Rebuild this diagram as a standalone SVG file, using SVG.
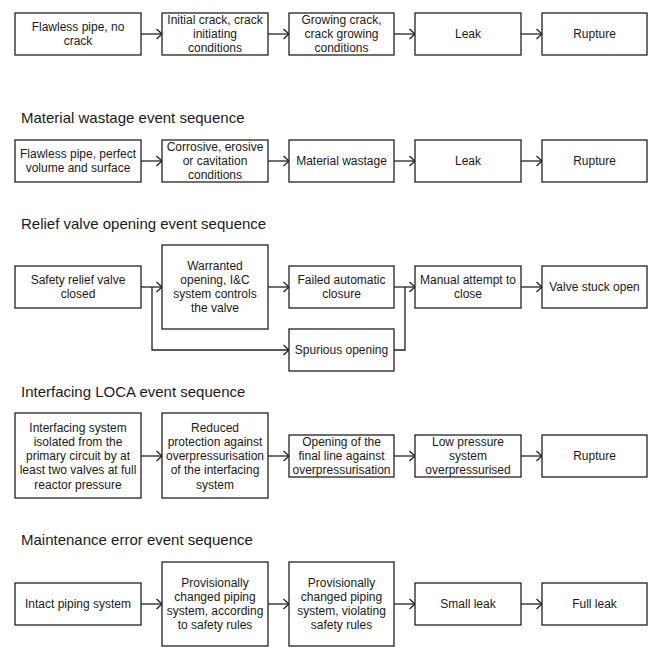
<svg xmlns="http://www.w3.org/2000/svg" width="655" height="664" viewBox="0 0 655 664">
<style>
.bx{fill:#fff;stroke:#222;stroke-width:1.3}
.t{font-family:"Liberation Sans",Arial,sans-serif;font-size:12px;fill:#1a1a1a;text-anchor:middle}
.h{font-family:"Liberation Sans",Arial,sans-serif;font-size:15px;fill:#1a1a1a}
.c{fill:none;stroke:#222;stroke-width:1.3}
</style>
<defs>
<marker id="ar" markerUnits="userSpaceOnUse" markerWidth="8" markerHeight="12" refX="6.5" refY="6" orient="auto" viewBox="0 0 8 12">
<path d="M1,1 L6.5,6 L1,11" fill="none" stroke="#222" stroke-width="1.3"/>
</marker>
</defs>
<rect width="655" height="664" fill="#fff"/>
<g id="titles">
<text class="h" x="21" y="123">Material wastage event sequence</text>
<text class="h" x="21" y="229">Relief valve opening event sequence</text>
<text class="h" x="21" y="397">Interfacing LOCA event sequence</text>
<text class="h" x="21" y="545">Maintenance error event sequence</text>
</g>
<g id="connectors">
<path class="c" marker-end="url(#ar)" d="M141,34H162"/>
<path class="c" marker-end="url(#ar)" d="M268,34H289"/>
<path class="c" marker-end="url(#ar)" d="M394,34H415"/>
<path class="c" marker-end="url(#ar)" d="M521,34H542"/>
<path class="c" marker-end="url(#ar)" d="M141,161H162"/>
<path class="c" marker-end="url(#ar)" d="M268,161H289"/>
<path class="c" marker-end="url(#ar)" d="M394,161H415"/>
<path class="c" marker-end="url(#ar)" d="M521,161H542"/>
<path class="c" marker-end="url(#ar)" d="M141,287H162"/>
<path class="c" marker-end="url(#ar)" d="M152,287V350H289"/>
<path class="c" marker-end="url(#ar)" d="M268,287H289"/>
<path class="c" marker-end="url(#ar)" d="M394,287H415"/>
<path class="c" d="M394,350H405V287"/>
<path class="c" marker-end="url(#ar)" d="M521,287H542"/>
<path class="c" marker-end="url(#ar)" d="M141,456H162"/>
<path class="c" marker-end="url(#ar)" d="M268,456H289"/>
<path class="c" marker-end="url(#ar)" d="M394,456H415"/>
<path class="c" marker-end="url(#ar)" d="M521,456H542"/>
<path class="c" marker-end="url(#ar)" d="M141,604H162"/>
<path class="c" marker-end="url(#ar)" d="M268,604H289"/>
<path class="c" marker-end="url(#ar)" d="M394,604H415"/>
<path class="c" marker-end="url(#ar)" d="M521,604H542"/>
</g>
<g id="n1a"><rect class="bx" x="15" y="13" width="126" height="42"/><text class="t" x="78" y="31">Flawless pipe, no</text><text class="t" x="78" y="45">crack</text></g>
<g id="n1b"><rect class="bx" x="162" y="13" width="106" height="42"/><text class="t" x="215" y="24">Initial crack, crack</text><text class="t" x="215" y="38">initiating</text><text class="t" x="215" y="52">conditions</text></g>
<g id="n1c"><rect class="bx" x="289" y="13" width="105" height="42"/><text class="t" x="341.5" y="24">Growing crack,</text><text class="t" x="341.5" y="38">crack growing</text><text class="t" x="341.5" y="52">conditions</text></g>
<g id="n1d"><rect class="bx" x="415" y="13" width="106" height="42"/><text class="t" x="468" y="38">Leak</text></g>
<g id="n1e"><rect class="bx" x="542" y="13" width="105" height="42"/><text class="t" x="594.5" y="38">Rupture</text></g>

<g id="n2a"><rect class="bx" x="15" y="140" width="126" height="42"/><text class="t" x="78" y="158">Flawless pipe, perfect</text><text class="t" x="78" y="172">volume and surface</text></g>
<g id="n2b"><rect class="bx" x="162" y="140" width="106" height="42"/><text class="t" x="215" y="151">Corrosive, erosive</text><text class="t" x="215" y="165">or cavitation</text><text class="t" x="215" y="179">conditions</text></g>
<g id="n2c"><rect class="bx" x="289" y="140" width="105" height="42"/><text class="t" x="341.5" y="165">Material wastage</text></g>
<g id="n2d"><rect class="bx" x="415" y="140" width="106" height="42"/><text class="t" x="468" y="165">Leak</text></g>
<g id="n2e"><rect class="bx" x="542" y="140" width="105" height="42"/><text class="t" x="594.5" y="165">Rupture</text></g>

<g id="n3a"><rect class="bx" x="15" y="266" width="126" height="42"/><text class="t" x="78" y="284">Safety relief valve</text><text class="t" x="78" y="298">closed</text></g>
<g id="n3b"><rect class="bx" x="162" y="245" width="106" height="84"/><text class="t" x="215" y="270">Warranted</text><text class="t" x="215" y="284">opening, I&amp;C</text><text class="t" x="215" y="298">system controls</text><text class="t" x="215" y="312">the valve</text></g>
<g id="n3c"><rect class="bx" x="289" y="266" width="105" height="42"/><text class="t" x="341.5" y="284">Failed automatic</text><text class="t" x="341.5" y="298">closure</text></g>
<g id="n3s"><rect class="bx" x="289" y="329" width="105" height="42"/><text class="t" x="341.5" y="354">Spurious opening</text></g>
<g id="n3d"><rect class="bx" x="415" y="266" width="106" height="42"/><text class="t" x="468" y="284">Manual attempt to</text><text class="t" x="468" y="298">close</text></g>
<g id="n3e"><rect class="bx" x="542" y="266" width="105" height="42"/><text class="t" x="594.5" y="291">Valve stuck open</text></g>

<g id="n4a"><rect class="bx" x="15" y="413" width="126" height="85"/><text class="t" x="78" y="431.5">Interfacing system</text><text class="t" x="78" y="445.8">isolated from the</text><text class="t" x="78" y="460">primary circuit by at</text><text class="t" x="78" y="474.3">least two valves at full</text><text class="t" x="78" y="488.5">reactor pressure</text></g>
<g id="n4b"><rect class="bx" x="162" y="413" width="106" height="85"/><text class="t" x="215" y="431.5">Reduced</text><text class="t" x="215" y="445.8">protection against</text><text class="t" x="215" y="460">overpressurisation</text><text class="t" x="215" y="474.3">of the interfacing</text><text class="t" x="215" y="488.5">system</text></g>
<g id="n4c"><rect class="bx" x="289" y="435" width="105" height="42"/><text class="t" x="341.5" y="446">Opening of the</text><text class="t" x="341.5" y="460">final line against</text><text class="t" x="341.5" y="474">overpressurisation</text></g>
<g id="n4d"><rect class="bx" x="415" y="435" width="106" height="42"/><text class="t" x="468" y="446">Low pressure</text><text class="t" x="468" y="460">system</text><text class="t" x="468" y="474">overpressurised</text></g>
<g id="n4e"><rect class="bx" x="542" y="435" width="105" height="42"/><text class="t" x="594.5" y="460">Rupture</text></g>

<g id="n5a"><rect class="bx" x="15" y="583" width="126" height="42"/><text class="t" x="78" y="608">Intact piping system</text></g>
<g id="n5b"><rect class="bx" x="162" y="562" width="106" height="84"/><text class="t" x="215" y="587">Provisionally</text><text class="t" x="215" y="601">changed piping</text><text class="t" x="215" y="615">system, according</text><text class="t" x="215" y="629">to safety rules</text></g>
<g id="n5c"><rect class="bx" x="289" y="562" width="105" height="84"/><text class="t" x="341.5" y="587">Provisionally</text><text class="t" x="341.5" y="601">changed piping</text><text class="t" x="341.5" y="615">system, violating</text><text class="t" x="341.5" y="629">safety rules</text></g>
<g id="n5d"><rect class="bx" x="415" y="583" width="106" height="42"/><text class="t" x="468" y="608">Small leak</text></g>
<g id="n5e"><rect class="bx" x="542" y="583" width="105" height="42"/><text class="t" x="594.5" y="608">Full leak</text></g>
</svg>
